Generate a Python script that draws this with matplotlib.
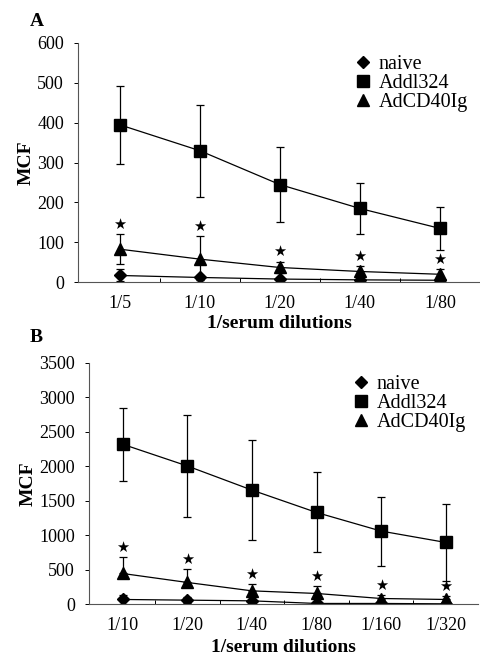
import numpy as np
import matplotlib.pyplot as plt
from matplotlib.lines import Line2D

plt.rcParams['font.family'] = ['Liberation Serif', 'DejaVu Serif']

# panel A data
dil_a = ['1/5', '1/10', '1/20', '1/40', '1/80']
naive_a = [17, 12, 8, 6, 5]
naive_a_err = [15, 6, 4, 3, 3]
addl_a = [395, 330, 245, 185, 135]
addl_a_err = [98, 115, 93, 65, 53]
cd40_a = [83, 58, 37, 27, 20]
cd40_a_lo = [37, 57, 15, 13, 12]
cd40_a_hi = [37, 57, 15, 13, 12]

# panel B data
dil_b = ['1/10', '1/20', '1/40', '1/80', '1/160', '1/320']
naive_b = [68, 58, 48, 10, 10, 5]
naive_b_err = [70, 40, 30, 15, 15, 10]
addl_b = [2320, 2005, 1655, 1330, 1060, 895]
addl_b_err = [530, 740, 725, 580, 500, 560]
cd40_b = [445, 315, 193, 155, 82, 68]
cd40_b_lo = [0, 0, 0, 0, 0, 0]
cd40_b_hi = [240, 190, 105, 110, 50, 50]

fig = plt.figure(figsize=(4.81, 6.61), dpi=100)
axA = fig.add_axes([0.162, 0.573, 0.836, 0.362])
axB = fig.add_axes([0.185, 0.086, 0.809, 0.365])


def draw(ax, labels, naive, naive_err, addl, addl_err, cd40, cd_lo, cd_hi, ymax, ystep, xlpad):
    x = np.arange(len(labels))
    ek = dict(color='black', lw=0.9, capsize=3, capthick=0.9, elinewidth=0.9)
    ax.errorbar(x, addl, yerr=addl_err, fmt='-s', ms=9, **ek)
    ax.errorbar(x, cd40, yerr=[cd_lo, cd_hi], fmt='-^', ms=8, **ek)
    ax.errorbar(x, naive, yerr=naive_err, fmt='-D', ms=6, **ek)
    # significance stars above the AdCD40Ig error bars
    for xi, top in zip(x, np.array(cd40) + np.array(cd_hi)):
        ax.annotate('\u2605', (xi, top), xytext=(0, 1.5), textcoords='offset points',
                    ha='center', va='bottom', fontsize=10.5, family='DejaVu Sans')
    ax.set_xlim(-0.52, len(labels) - 0.5)
    ax.set_ylim(0, ymax)
    ax.set_yticks(np.arange(0, ymax + 1, ystep))
    ax.set_xticks(x)
    ax.set_xticklabels(labels)
    ax.set_xticks(x[:-1] + 0.5, minor=True)
    for s in ['top', 'right']:
        ax.spines[s].set_visible(False)
    for s in ['left', 'bottom']:
        ax.spines[s].set_color('#555555')
        ax.spines[s].set_linewidth(0.8)
    ax.tick_params(axis='y', direction='out', length=3, width=0.7, labelsize=13, pad=7)
    ax.tick_params(axis='x', which='major', length=0, labelsize=13, pad=9)
    ax.tick_params(axis='x', which='minor', direction='in', length=3, width=0.7)
    ax.set_ylabel('MCF', fontsize=14, fontweight='bold', labelpad=2)
    ax.set_xlabel('1/serum dilutions', fontsize=14, fontweight='bold', labelpad=xlpad)
    handles = [Line2D([], [], color='black', marker=m, ms=s, ls='none')
               for m, s in [('D', 6), ('s', 9), ('^', 8)]]
    ax.legend(handles, ['naive', 'Addl324', 'AdCD40Ig'], loc='upper right',
              bbox_to_anchor=(1.0, 1.0), frameon=False, fontsize=14.5,
              handlelength=0.8, handletextpad=0.4, labelspacing=0.0,
              borderaxespad=0.2)


draw(axA, dil_a, naive_a, naive_a_err, addl_a, addl_a_err, cd40_a, cd40_a_lo, cd40_a_hi, 600, 100, 2)
draw(axB, dil_b, naive_b, naive_b_err, addl_b, addl_b_err, cd40_b, cd40_b_lo, cd40_b_hi, 3500, 500, 4)

fig.text(0.062, 0.967, 'A', fontsize=14, fontweight='bold', ha='left', va='center')
fig.text(0.062, 0.49, 'B', fontsize=14, fontweight='bold', ha='left', va='center')

fig.savefig('out.png', dpi=100)
